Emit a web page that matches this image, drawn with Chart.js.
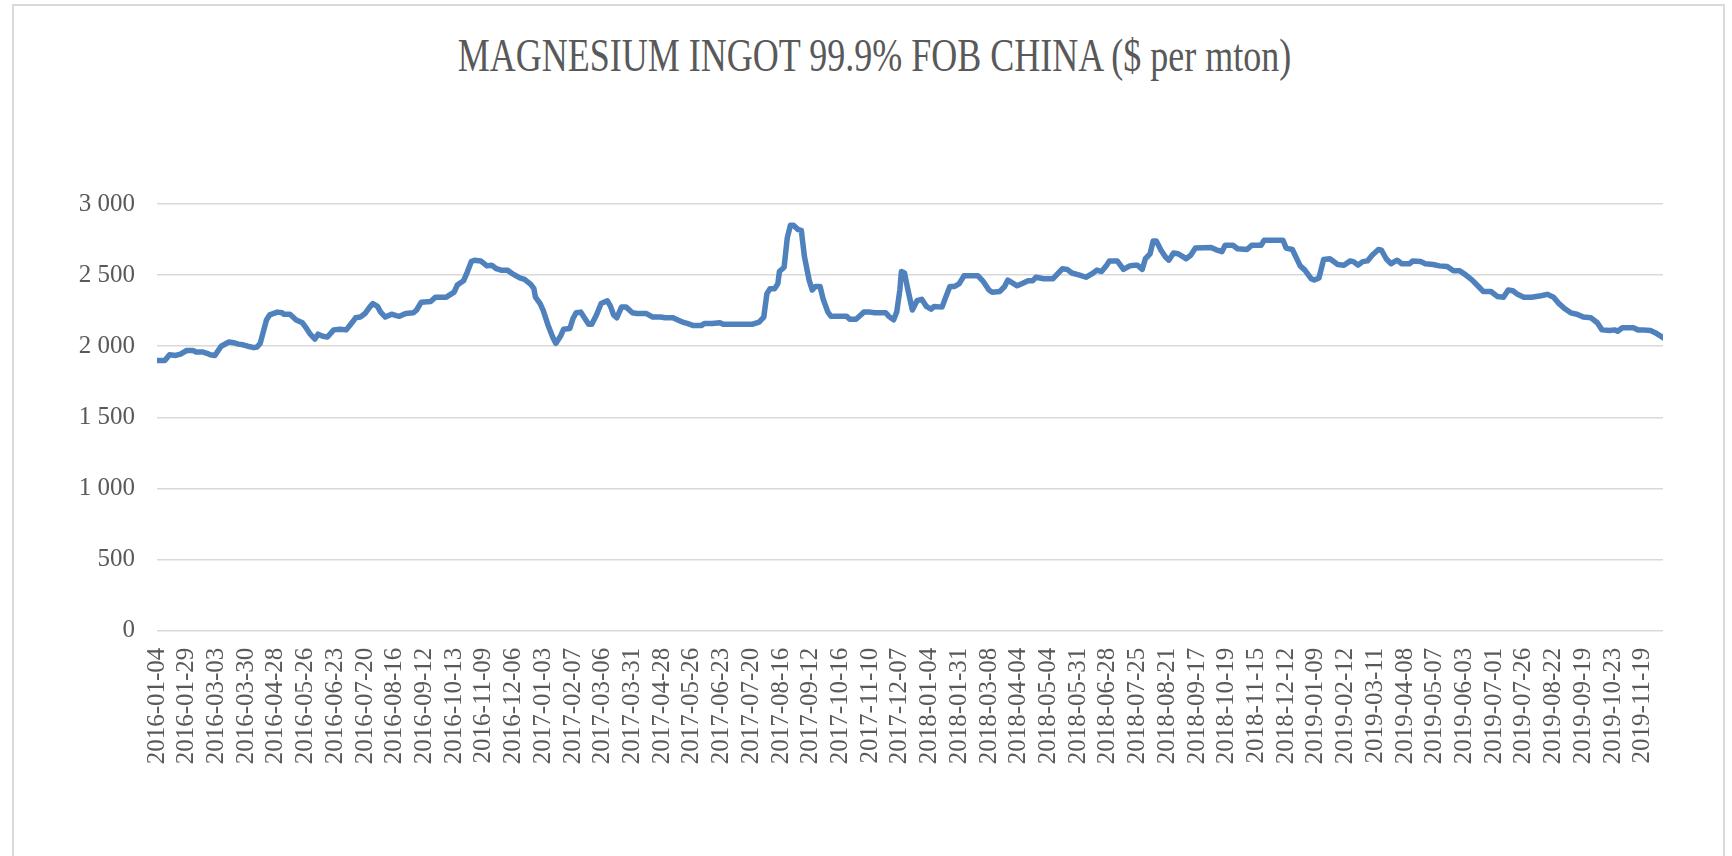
<!DOCTYPE html>
<html>
<head>
<meta charset="utf-8">
<script src="https://cdn.jsdelivr.net/npm/chart.js@4.4.1/dist/chart.umd.min.js"></script>
<style>
html,body{margin:0;padding:0;background:#fff;width:1732px;height:856px;overflow:hidden;}
#frame{position:absolute;left:12px;top:4px;width:1713px;height:900px;border:2px solid #d9d9d9;box-sizing:border-box;}
#title{position:absolute;left:0;width:1749px;top:41px;text-align:center;font-family:"Liberation Serif",serif;font-size:36px;line-height:36px;color:#595959;white-space:nowrap;transform:scaleY(1.3);transform-origin:50% 30px;}
#c{position:absolute;left:0;top:0;}
</style>
</head>
<body>
<div id="frame"></div>
<div id="title">MAGNESIUM INGOT 99.9% FOB CHINA ($ per mton)</div>
<canvas id="c" width="1732" height="856"></canvas>
<script>
// Category tick labels (one every 19 trading days)
const tickDates = ["2016-01-04","2016-01-29","2016-03-03","2016-03-30","2016-04-28","2016-05-26","2016-06-23","2016-07-20","2016-08-16","2016-09-12","2016-10-13","2016-11-09","2016-12-06","2017-01-03","2017-02-07","2017-03-06","2017-03-31","2017-04-28","2017-05-26","2017-06-23","2017-07-20","2017-08-16","2017-09-12","2017-10-16","2017-11-10","2017-12-07","2018-01-04","2018-01-31","2018-03-08","2018-04-04","2018-05-04","2018-05-31","2018-06-28","2018-07-25","2018-08-21","2018-09-17","2018-10-19","2018-11-15","2018-12-12","2019-01-09","2019-02-12","2019-03-11","2019-04-08","2019-05-07","2019-06-03","2019-07-01","2019-07-26","2019-08-22","2019-09-19","2019-10-23","2019-11-19"];
const tickStep = 19;
const lastIndex = 963;
const yTicks = [0, 500, 1000, 1500, 2000, 2500, 3000];

// Trading-day index of each read-off vertex and its price ($/mton)
const dayIndex = [0,5,8,12,15,19,23,25,29,32,34,37,41,46,49,52,55,58,62,64,66,70,72,77,80,81,85,89,93,95,98,101,103,106,109,113,117,121,125,127,130,133,136,138,141,143,146,150,153,155,159,164,166,169,175,178,185,190,192,196,198,201,203,207,211,214,217,220,224,228,232,235,239,241,242,245,247,250,253,255,258,260,264,266,268,271,273,276,278,281,284,288,290,292,294,297,300,304,307,313,317,322,325,330,333,336,339,343,348,350,355,360,362,366,381,385,388,390,392,395,397,398,401,403,405,407,410,412,414,417,419,421,424,426,429,431,441,443,447,450,452,456,459,466,468,471,473,475,476,478,480,483,486,489,492,495,497,502,504,507,510,513,516,525,528,532,534,539,542,544,547,550,554,557,560,562,567,573,576,579,582,585,590,594,598,601,604,607,609,614,618,622,625,627,630,632,635,637,639,642,645,647,650,653,656,658,661,664,674,678,681,683,688,691,697,700,706,708,720,722,726,731,734,738,740,743,746,750,755,759,763,765,768,771,774,777,781,783,786,789,793,796,801,803,808,811,816,820,825,829,833,837,841,845,848,853,857,861,864,867,870,874,879,882,885,889,893,896,900,904,908,912,917,921,924,929,932,934,937,944,947,950,955,958,961,963];
const price = [1900,1900,1940,1935,1945,1970,1970,1960,1960,1950,1940,1935,2000,2030,2025,2015,2010,2000,1990,1995,2020,2185,2220,2240,2235,2225,2225,2185,2165,2135,2085,2050,2085,2070,2065,2115,2120,2115,2170,2200,2205,2230,2275,2300,2280,2240,2205,2225,2215,2210,2230,2235,2255,2310,2315,2345,2345,2380,2430,2460,2510,2595,2605,2600,2565,2570,2545,2535,2535,2505,2480,2470,2435,2405,2345,2300,2250,2150,2065,2020,2070,2120,2125,2195,2235,2240,2205,2155,2155,2220,2300,2320,2280,2220,2200,2275,2275,2235,2230,2230,2205,2205,2200,2200,2185,2170,2160,2145,2145,2160,2160,2165,2155,2155,2155,2170,2205,2370,2405,2405,2440,2525,2555,2760,2850,2850,2820,2815,2630,2465,2395,2420,2420,2330,2240,2210,2210,2190,2190,2220,2240,2240,2235,2235,2210,2185,2240,2395,2525,2515,2405,2255,2320,2330,2280,2260,2280,2275,2335,2420,2420,2440,2495,2495,2460,2395,2380,2385,2420,2465,2445,2425,2445,2460,2460,2485,2475,2475,2510,2545,2540,2515,2500,2485,2510,2535,2525,2565,2600,2600,2540,2565,2570,2570,2540,2615,2650,2740,2740,2675,2625,2605,2655,2650,2630,2615,2640,2690,2695,2675,2665,2710,2710,2685,2680,2710,2710,2745,2745,2690,2680,2565,2535,2475,2465,2480,2610,2615,2575,2570,2600,2595,2570,2595,2600,2640,2680,2675,2615,2580,2605,2580,2580,2600,2595,2580,2575,2565,2560,2530,2530,2500,2465,2420,2385,2385,2350,2345,2395,2390,2365,2345,2345,2350,2355,2365,2345,2305,2265,2235,2225,2205,2200,2165,2115,2110,2115,2105,2130,2130,2115,2115,2110,2095,2075,2060];

const fmtY = v => v >= 1000 ? Math.floor(v / 1000) + ' ' + String(v % 1000).padStart(3, '0') : String(v);
const tickFont = {family: '"Liberation Serif", serif', size: 25};

new Chart(document.getElementById('c'), {
  type: 'line',
  data: {
    datasets: [{
      data: dayIndex.map((d, i) => ({x: d, y: price[i]})),
      borderColor: '#4f81bd',
      borderWidth: 5.5,
      pointRadius: 0,
      tension: 0,
      borderJoinStyle: 'round',
      borderCapStyle: 'round',
      fill: false
    }]
  },
  options: {
    responsive: false,
    animation: false,
    layout: {padding: {left: 0, right: 69, top: 204, bottom: 0}},
    plugins: {legend: {display: false}, tooltip: {enabled: false}, title: {display: false}},
    scales: {
      x: {
        type: 'linear', min: 0, max: lastIndex,
        grid: {display: false, drawTicks: false},
        border: {display: false},
        afterBuildTicks: s => { s.ticks = tickDates.map((d, k) => ({value: k * tickStep})); },
        ticks: {
          autoSkip: false, minRotation: 90, maxRotation: 90, padding: 17,
          color: '#595959', font: tickFont,
          callback: v => tickDates[Math.round(v / tickStep)] ?? ''
        },
        afterFit: s => { s.height = 856 - 630.7; }
      },
      y: {
        min: 0, max: 3000,
        afterBuildTicks: s => { s.ticks = yTicks.map(v => ({value: v})); },
        grid: {color: '#d9d9d9', lineWidth: 1.6, drawTicks: false},
        border: {display: false},
        ticks: {padding: 22, color: '#595959', font: tickFont, callback: v => fmtY(v)},
        afterFit: s => { s.width = 157; }
      }
    }
  }
});
</script>
</body>
</html>
